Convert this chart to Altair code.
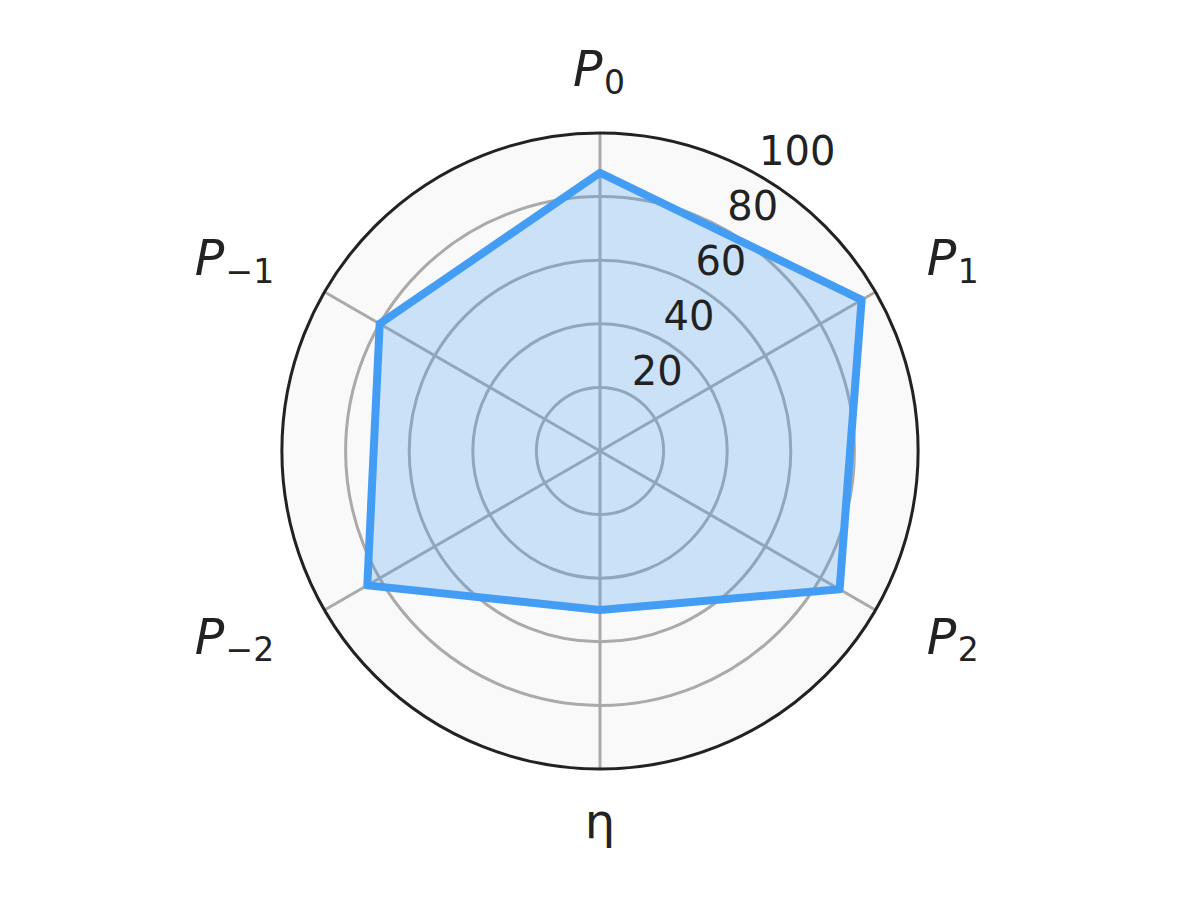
import math
import pandas as pd
import altair as alt

# ---- data ----
axis_main = ["P", "P", "P", "η", "P", "P"]
axis_sub = ["0", "1", "2", "", "−2", "−1"]
values = [87.5, 95.0, 87.0, 50.0, 84.5, 80.0]
ticks = [20, 40, 60, 80, 100]

BLUE = "#449df4"
GRID = "#aaaaaa"
TEXT = "#222222"
FONT = "DejaVu Sans"

axes_df = pd.DataFrame({"idx": list(range(len(values))), "main": axis_main,
                        "sub": axis_sub, "value": values})
rings_df = pd.DataFrame({"r": ticks[:-1]})
outer_df = pd.DataFrame({"r": [ticks[-1]]})
ticks_df = pd.DataFrame({"t": ticks})

# pixel scale: 100 units = 318 px, centre at (600, 451)
K = 3.18
xs = alt.Scale(domain=[-600 / K, 600 / K], nice=False, zero=False)
ys = alt.Scale(domain=[-(900 - 451) / K, 451 / K], nice=False, zero=False)
rs = alt.Scale(type="linear", domain=[0, 100], range=[0, 100 * K], zero=True, nice=False)

ANG = "(90 - 60*datum.idx)*PI/180"


def X(f):
    return alt.X(f, type="quantitative", scale=xs, axis=None)


def Y(f):
    return alt.Y(f, type="quantitative", scale=ys, axis=None)


def R(f):
    return alt.Radius(f, type="quantitative", scale=rs, stack=False)


centre = dict(cx="0", cy="0")

disk = alt.Chart(outer_df).transform_calculate(**centre).mark_arc(
    theta=0, theta2=2 * math.pi, fill="#f9f9f9", strokeWidth=0
).encode(x=X("cx"), y=Y("cy"), radius=R("r"))

rings = alt.Chart(rings_df).transform_calculate(**centre).mark_arc(
    theta=0, theta2=2 * math.pi, fillOpacity=0, fill="#ffffff", stroke=GRID, strokeWidth=3
).encode(x=X("cx"), y=Y("cy"), radius=R("r"))

spokes = alt.Chart(axes_df).transform_calculate(
    ang=ANG, cx="0", cy="0",
    ex="100*cos(datum.ang)", ey="100*sin(datum.ang)"
).mark_rule(color=GRID, strokeWidth=3).encode(
    x=X("cx"), y=Y("cy"), x2="ex:Q", y2="ey:Q")

poly = alt.Chart(axes_df).transform_calculate(
    ang=ANG, px="datum.value*cos(datum.ang)", py="datum.value*sin(datum.ang)"
).mark_line(
    interpolate="linear-closed", stroke=BLUE, strokeWidth=8, fill=BLUE,
    fillOpacity=0.25, strokeJoin="round"
).encode(x=X("px"), y=Y("py"), order=alt.Order("idx:O"))

outer = alt.Chart(outer_df).transform_calculate(**centre).mark_arc(
    theta=0, theta2=2 * math.pi, fillOpacity=0, fill="#ffffff", stroke=TEXT, strokeWidth=3
).encode(x=X("cx"), y=Y("cy"), radius=R("r"))

tick_labels = alt.Chart(ticks_df).transform_calculate(
    tx="datum.t*cos(PI/3)", ty="datum.t*sin(PI/3)"
).mark_text(
    align="left", baseline="alphabetic", dy=-10.5, fontSize=40, font=FONT, color=TEXT
).encode(x=X("tx"), y=Y("ty"), text=alt.Text("t:Q", format="d"))

lab = alt.Chart(axes_df).transform_calculate(
    ang=ANG, lx="119*cos(datum.ang)", ly="119*sin(datum.ang)", c="cos(datum.ang)"
)
enc_main = dict(x=X("lx"), y=Y("ly"), text="main:N")
enc_sub = dict(x=X("lx"), y=Y("ly"), text="sub:N")
main_style = dict(baseline="alphabetic", fontSize=49, font=FONT, fontStyle="italic", color=TEXT)
sub_style = dict(baseline="alphabetic", fontSize=33, font=FONT, color=TEXT)

right_main = lab.transform_filter("datum.c > 0.1").mark_text(
    align="left", dx=-1, dy=13.5, **main_style).encode(**enc_main)
right_sub = lab.transform_filter("datum.c > 0.1").mark_text(
    align="left", dx=30, dy=21, **sub_style).encode(**enc_sub)
left_main = lab.transform_filter("datum.c < -0.1").mark_text(
    align="right", dx=-48, dy=13.5, **main_style).encode(**enc_main)
left_sub = lab.transform_filter("datum.c < -0.1").mark_text(
    align="right", dx=2, dy=21, **sub_style).encode(**enc_sub)
top_main = lab.transform_filter("abs(datum.c) <= 0.1 && datum.sub != ''").mark_text(
    align="left", dx=-27, dy=13.5, **main_style).encode(**enc_main)
top_sub = lab.transform_filter("abs(datum.c) <= 0.1 && datum.sub != ''").mark_text(
    align="left", dx=4, dy=21, **sub_style).encode(**enc_sub)
plain = lab.transform_filter("datum.sub == ''").mark_text(
    align="center", baseline="alphabetic", dy=9, fontSize=48, font=FONT, color=TEXT
).encode(**enc_main)

chart = alt.layer(
    disk, rings, spokes, poly, outer, tick_labels,
    right_main, right_sub, left_main, left_sub, top_main, top_sub, plain
).properties(
    width=1200, height=900, autosize=alt.AutoSizeParams(type="none"), padding=0,
    background="#ffffff"
).configure_view(strokeWidth=0)

chart.save("out.html", embed_options={"renderer": "svg", "actions": False})
